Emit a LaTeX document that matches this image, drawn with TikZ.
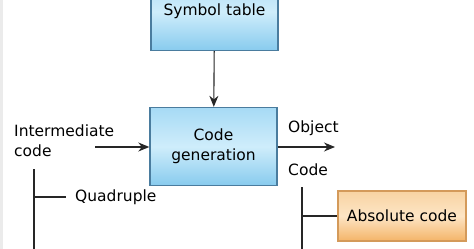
\documentclass[tikz,border=0pt]{standalone}
\usepackage{fontspec}
\setmainfont{DejaVu Sans}
\usepackage{xcolor}
\usetikzlibrary{arrows.meta,positioning}

\definecolor{blueedge}{HTML}{4A7C9E}
\definecolor{bluetop}{HTML}{A6DAF5}
\definecolor{bluemid}{HTML}{CFEDFB}
\definecolor{bluebot}{HTML}{88CBEE}
\definecolor{orangeedge}{HTML}{D49A5A}
\definecolor{orangetop}{HTML}{F8D3A2}
\definecolor{orangemid}{HTML}{FDE5C5}
\definecolor{orangebot}{HTML}{F4B468}

\begin{document}
\begin{tikzpicture}[
    x=1pt, y=-1pt,
    >={Stealth[length=11pt,width=9pt]},
    font=\fontsize{15.5}{20}\selectfont,
    stage/.style={draw=blueedge, line width=1.4pt, minimum width=127pt,
      minimum height=78pt, align=center, inner sep=0pt,
      top color=bluetop, bottom color=bluebot, middle color=bluemid},
    leafbox/.style={draw=orangeedge, line width=1.4pt, minimum width=128pt,
      minimum height=50pt, align=center, inner sep=0pt,
      top color=orangetop, bottom color=orangebot, middle color=orangemid},
    label/.style={align=left, inner sep=0pt, anchor=west},
    flow/.style={->, line width=1.1pt, black!85},
    tree/.style={line width=2pt, black!85},
  ]
  \clip (0,0) rectangle (474,249);
  \fill[black!8] (0,0) rectangle (3,249);

  % Main blocks
  \node[stage] (symtab) at (214.5,11.5) {Symbol table};
  \node[stage] (codegen) at (213.5,146.5) {Code\\generation};

  % Input and output
  \node[label] (inter) at (14,141) {Intermediate\\code};
  \coordinate (inend) at (95,147);
  \coordinate (outend) at (335,147);
  \node[label] (object) at (288,128) {Object};
  \node[label] (objcode) at (288,170) {Code};

  % Edges
  \draw[flow] (symtab) -- (codegen);
  \draw[flow] (inend) -- (inend -| codegen.west);
  \draw[flow] (outend -| codegen.east) -- (outend);

  % Left branch
  \coordinate (ltop) at (34,169);
  \coordinate (lbot) at (34,252);
  \coordinate (ltick) at (34,197);
  \node[label] (quad) at (75,197) {Quadruple};
  \draw[tree] (ltop) -- (lbot);
  \draw[tree] (ltick) -- ++(32,0);

  % Right branch
  \node[leafbox] (abscode) at (402,216) {Absolute code};
  \coordinate (rtop) at (302,187);
  \coordinate (rbot) at (302,252);
  \draw[tree] (rtop) -- (rbot);
  \draw[tree] (rtop |- abscode.west) -- (abscode.west);
\end{tikzpicture}
\end{document}
